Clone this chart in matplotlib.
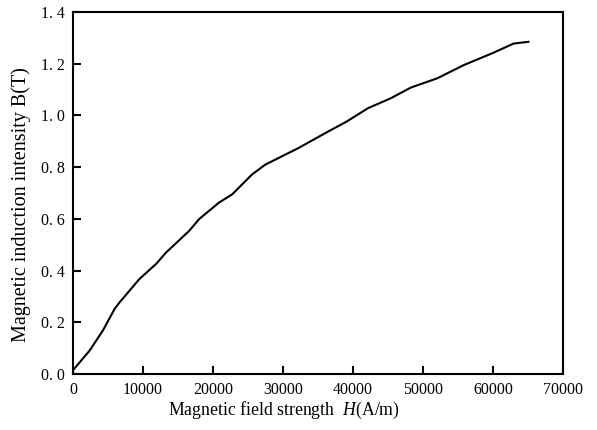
import numpy as np
import matplotlib.pyplot as plt

# B-H curve
H = [0, 2400, 4300, 5960, 6670, 9500, 11870, 13290, 16600, 18000, 20850,
     22740, 25580, 27470, 32200, 36450, 39000, 42130, 45430, 48270, 52060,
     55840, 60100, 62930, 65060]
B = [0.015, 0.092, 0.17, 0.253, 0.278, 0.368, 0.426, 0.47, 0.554, 0.599, 0.663,
     0.695, 0.772, 0.81, 0.874, 0.938, 0.975, 1.028, 1.067, 1.108, 1.144,
     1.195, 1.243, 1.278, 1.285]

xticks = [0, 10000, 20000, 30000, 40000, 50000, 60000, 70000]
yticks = [0.0, 0.2, 0.4, 0.6, 0.8, 1.0, 1.2, 1.4]
ylabels = ['0. 0', '0. 2', '0. 4', '0. 6', '0. 8', '1. 0', '1. 2', '1. 4']

plt.rcParams['font.family'] = ['Liberation Serif', 'DejaVu Serif']
plt.rcParams['mathtext.fontset'] = 'custom'
plt.rcParams['mathtext.it'] = 'Liberation Serif:italic'
plt.rcParams['mathtext.rm'] = 'Liberation Serif'

fig = plt.figure(figsize=(5.97, 4.30), dpi=100)
ax = fig.add_axes([0.1223, 0.130, 0.8207, 0.842])

ax.plot(H, B, color='black', lw=1.5, solid_joinstyle='round')

ax.set_xlim(0, 70000)
ax.set_ylim(0, 1.4)
ax.set_xticks(xticks)
ax.set_xticklabels([str(t) for t in xticks])
ax.set_yticks(yticks)
ax.set_yticklabels(ylabels)
ax.tick_params(direction='in', length=6, width=1.5, labelsize=11.5, pad=6,
               top=False, right=False)
for s in ax.spines.values():
    s.set_linewidth(1.5)

ax.set_xlabel('Magnetic field strength  $\\it{H}$(A/m)', fontsize=12.8,
              va='center', ha='center')
ax.xaxis.set_label_coords(0.43, -0.0994)
ax.set_ylabel('Magnetic induction intensity B(T)', fontsize=14.5,
              va='center', ha='center')
ax.yaxis.set_label_coords(-0.105, 0.467)

fig.savefig('out.png', dpi=100)
